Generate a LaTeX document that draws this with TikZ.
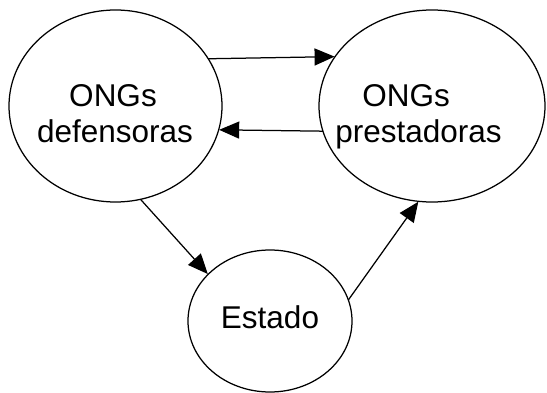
\documentclass[tikz,border=0pt]{standalone}
\usepackage{fontspec}
\setmainfont{Liberation Sans}
\usepackage{tikz}
\usetikzlibrary{shapes.geometric,arrows.meta}

\begin{document}
\begin{tikzpicture}[x=1pt, y=-1pt, line width=1.25pt,
  font=\fontsize{31.5}{35}\selectfont,
  actor/.style={draw, ellipse, inner sep=0pt, outer sep=0pt},
  txt/.style={anchor=base, inner sep=0pt},
  flow/.style={-{Triangle[length=20pt, width=17pt]}, shorten >=0.5pt}]
\useasboundingbox (0,0) rectangle (547,393);
% the three actors
\node[actor, minimum width=213pt, minimum height=192pt] (def) at (115.5,106) {};
\node[actor, minimum width=226pt, minimum height=192pt] (pres) at (432,106) {};
\node[actor, minimum width=164pt, minimum height=142pt] (est) at (270,321) {};
\node[txt] (defa) at (113,106.5) {ONGs};
\node[txt] (defb) at (115,143) {defensoras};
\node[txt] (presa) at (406,107) {ONGs};
\node[txt] (presb) at (418.5,143) {prestadoras};
\node[txt] (esta) at (270,328.5) {Estado};
% relations
\draw[flow] (def.27.5) -- (pres.153.9);
\draw[flow] (pres.-167.6) -- (def.-13.1);
\draw[flow] (def.-75.3) -- (est.143.6);
\draw[flow] (est.15.7) -- (pres.-98.8);
\end{tikzpicture}
\end{document}
